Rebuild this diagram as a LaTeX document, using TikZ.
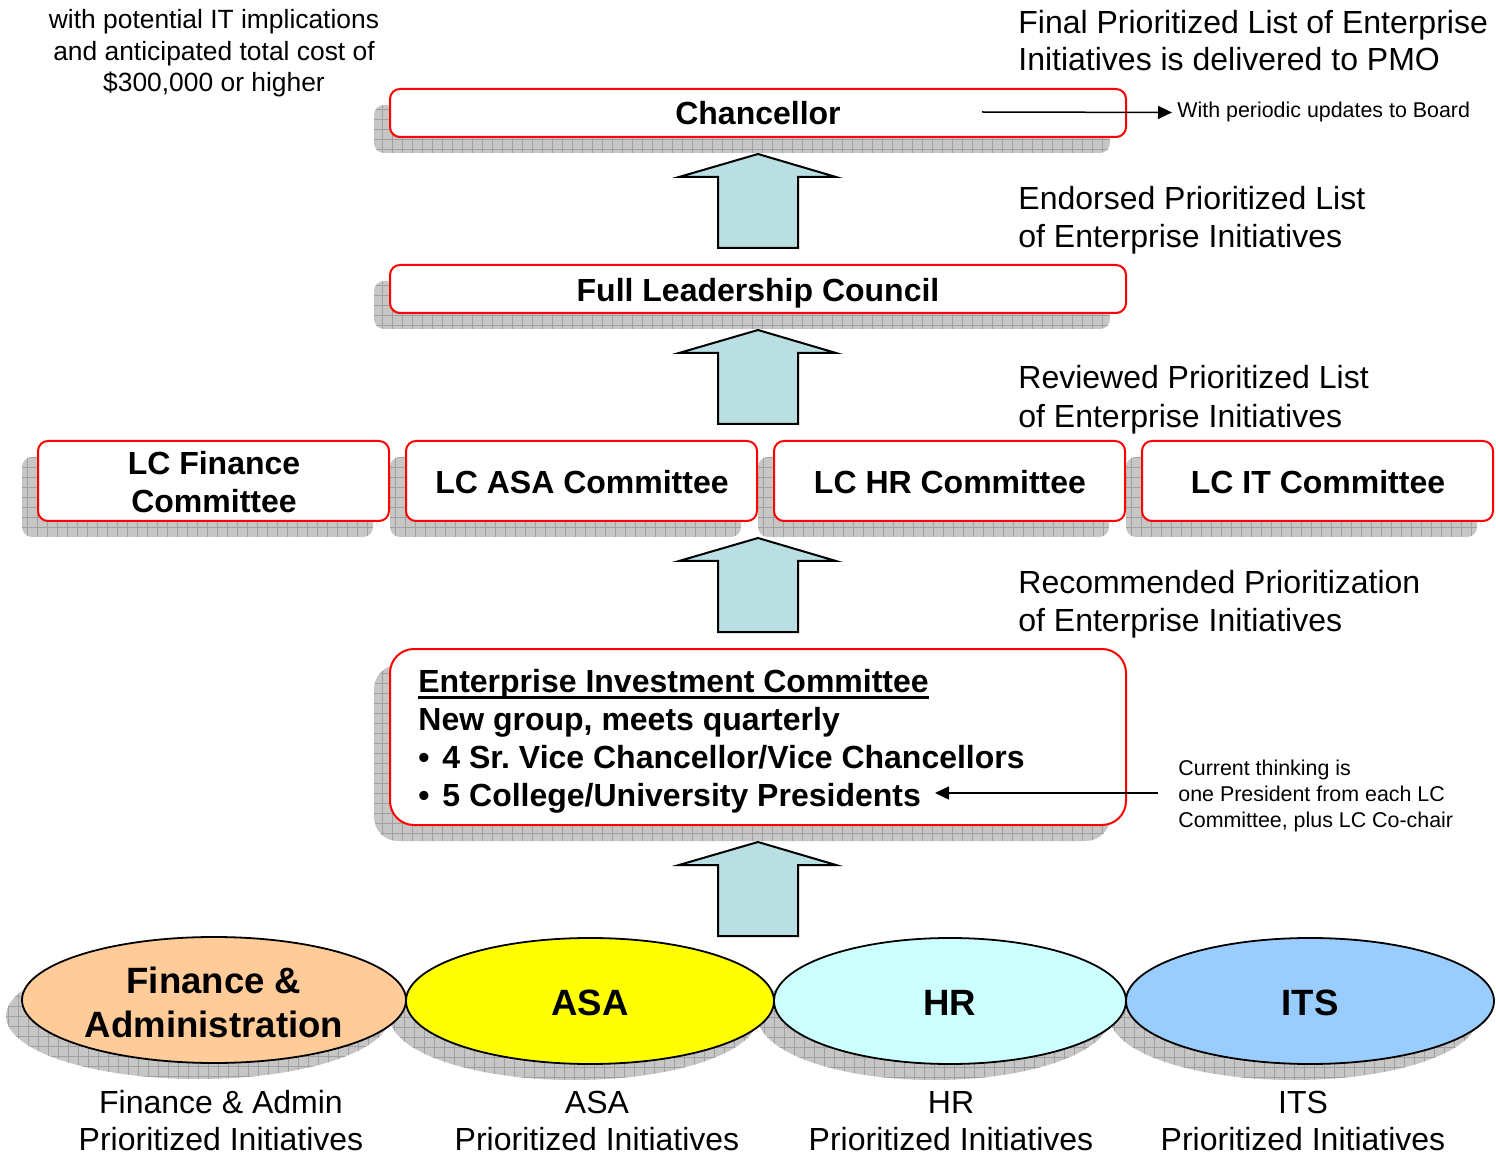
\documentclass[tikz,border=0pt]{standalone}
\usepackage{fontspec}
\setmainfont{Liberation Sans}
\usetikzlibrary{shapes.geometric,arrows.meta}
\definecolor{shgray}{RGB}{198,198,198}
\definecolor{shline}{RGB}{160,160,160}
\definecolor{arrowfill}{RGB}{185,223,227}
\definecolor{fafill}{RGB}{255,204,153}
\definecolor{asafill}{RGB}{255,255,0}
\definecolor{hrfill}{RGB}{204,255,255}
\definecolor{itsfill}{RGB}{153,204,255}
\tikzset{
  box/.style={draw=red, line width=1pt, fill=white, rounded corners=5pt, inner sep=0pt, minimum width=368pt, minimum height=24pt},
  lcbox/.style={box, minimum width=175.5pt, minimum height=40pt},
  eicbox/.style={box, rounded corners=12pt, minimum height=88pt},
  shadowstyle/.style={draw=none, fill=shgray, path picture={\draw[shline, line width=0.4pt] (path picture bounding box.south west) grid[step=5pt] (path picture bounding box.north east);}},
  oval/.style={ellipse, draw=black, line width=0.9pt, inner sep=0pt, minimum width=#1, minimum height=63pt},
  ovalshadow/.style={ellipse, shadowstyle, inner sep=0pt, minimum width=#1, minimum height=63pt},
  boxtext/.style={font=\fontsize{16pt}{19pt}\selectfont\bfseries, inner sep=0pt, anchor=base},
  eictext/.style={boxtext, anchor=base west},
  sidetext/.style={font=\fontsize{16pt}{19pt}\selectfont, inner sep=0pt, anchor=base west},
  notetext/.style={font=\fontsize{10.7pt}{13pt}\selectfont, inner sep=0pt, anchor=base west},
  ovaltext/.style={font=\fontsize{18.3pt}{22pt}\selectfont\bfseries, inner sep=0pt, anchor=base},
  bottomtext/.style={font=\fontsize{16pt}{19pt}\selectfont, inner sep=0pt, anchor=base},
  tltext/.style={font=\fontsize{13.2pt}{16pt}\selectfont, inner sep=0pt, anchor=base},
  blockarrow/.style={draw=black, line width=1pt, fill=arrowfill, line join=miter},
  conn/.style={line width=0.75pt, -{Triangle[length=7pt,width=6.5pt]}},
  uparrow/.pic={\draw[blockarrow] (0,1) -- (78,24) -- (40,24) -- (40,95) -- (-40,95) -- (-40,24) -- (-79,24) -- cycle;}
}
\begin{document}
\begin{tikzpicture}[x=0.5pt,y=-0.5pt]
\useasboundingbox (0,0) rectangle (1496,1155);
\fill[white] (0,0) rectangle (1496,1155);

% ---------- shadows ----------
\node[box, shadowstyle] (chanS) at (742,129) {};
\node[box, shadowstyle] (flcS) at (742,305) {};
\node[lcbox, shadowstyle] (lcfinS) at (197.5,497) {};
\node[lcbox, shadowstyle] (lcasaS) at (565.5,497) {};
\node[lcbox, shadowstyle] (lchrS) at (933.5,497) {};
\node[lcbox, shadowstyle] (lcitS) at (1301.5,497) {};
\node[eicbox, shadowstyle] (eicS) at (742,753) {};
\node[ovalshadow=192pt] (faS) at (198,1016) {};
\node[ovalshadow=184pt] (asaS) at (574,1017) {};
\node[ovalshadow=176pt] (hrS) at (934,1017) {};
\node[ovalshadow=184pt] (itsS) at (1294,1017) {};

% ---------- block arrows ----------
\pic at (758,153) {uparrow};
\pic at (758,329) {uparrow};
\pic at (758,537) {uparrow};
\pic at (758,841) {uparrow};

% ---------- boxes ----------
\node[box] (chan) at (758,113) {};
\node[boxtext] (chanT) at (758,125) {Chancellor};
\node[box] (flc) at (758,289) {};
\node[boxtext] (flcT) at (758,302) {Full Leadership Council};

\node[lcbox] (lcfin) at (213.5,481) {};
\node[boxtext] (lcfinT1) at (214,475) {LC Finance};
\node[boxtext] (lcfinT2) at (214,513) {Committee};
\node[lcbox] (lcasa) at (581.5,481) {};
\node[boxtext] (lcasaT) at (582,494) {LC ASA Committee};
\node[lcbox] (lchr) at (949.5,481) {};
\node[boxtext] (lchrT) at (950,494) {LC HR Committee};
\node[lcbox] (lcit) at (1317.5,481) {};
\node[boxtext] (lcitT) at (1318,494) {LC IT Committee};

\node[eicbox] (eic) at (758,737) {};
\node[eictext] (eic1) at (418,692) {Enterprise Investment Committee};
\draw[line width=1.5pt] ([yshift=-2.5pt]eic1.base west) -- ([yshift=-2.5pt]eic1.base east);
\node[eictext] (eic2) at (418,730) {New group, meets quarterly};
\node[eictext] (eic3) at (418,768) {• \hspace{2pt}4 Sr.\ Vice Chancellor/Vice Chancellors};
\node[eictext] (eic4) at (418,806) {• \hspace{2pt}5 College/University Presidents};

% ---------- ellipses ----------
\node[oval=192pt, fill=fafill] (fa) at (214,1000) {};
\node[ovaltext] (faT1) at (214,993) {Finance \&};
\node[ovaltext] (faT2) at (214,1037) {Administration};
\node[oval=184pt, fill=asafill] (asa) at (590,1001) {};
\node[ovaltext] (asaT) at (590,1015) {ASA};
\node[oval=176pt, fill=hrfill] (hr) at (950,1001) {};
\node[ovaltext] (hrT) at (950,1015) {HR};
\node[oval=184pt, fill=itsfill] (its) at (1310,1001) {};
\node[ovaltext] (itsT) at (1310,1015) {ITS};

% ---------- bottom labels ----------
\node[bottomtext] (faB1) at (221,1113) {Finance \& Admin};
\node[bottomtext] (faB2) at (221,1150) {Prioritized Initiatives};
\node[bottomtext] (asaB1) at (597,1113) {ASA};
\node[bottomtext] (asaB2) at (597,1150) {Prioritized Initiatives};
\node[bottomtext] (hrB1) at (951,1113) {HR};
\node[bottomtext] (hrB2) at (951,1150) {Prioritized Initiatives};
\node[bottomtext] (itsB1) at (1303,1113) {ITS};
\node[bottomtext] (itsB2) at (1303,1150) {Prioritized Initiatives};

% ---------- side texts ----------
\node[tltext] (tl1) at (214,29) {with potential IT implications};
\node[tltext] (tl2) at (214,61) {and anticipated total cost of};
\node[tltext] (tl3) at (214,92) {\$300,000 or higher};

\node[sidetext] (fin1) at (1018,34) {Final Prioritized List of Enterprise};
\node[sidetext] (fin2) at (1018,71) {Initiatives is delivered to PMO};
\node[sidetext] (end1) at (1018,210) {Endorsed Prioritized List};
\node[sidetext] (end2) at (1018,248) {of Enterprise Initiatives};
\node[sidetext] (rev1) at (1018,389) {Reviewed Prioritized List};
\node[sidetext] (rev2) at (1018,428) {of Enterprise Initiatives};
\node[sidetext] (rec1) at (1018,594) {Recommended Prioritization};
\node[sidetext] (rec2) at (1018,632) {of Enterprise Initiatives};

\node[notetext] (upd) at (1177,118) {With periodic updates to Board};
\coordinate (updS) at (982,112);
\draw[conn] (updS) -- ([xshift=-2.5pt]upd.west);

\node[notetext] (ct1) at (1178,775) {Current thinking is};
\node[notetext] (ct2) at (1178,801) {one President from each LC};
\node[notetext] (ct3) at (1178,827) {Committee, plus LC Co-chair};
\coordinate (ctS) at (1158,793);
\coordinate (ctE) at (935,793);
\draw[conn] (ctS) -- (ctE);
\end{tikzpicture}
\end{document}
